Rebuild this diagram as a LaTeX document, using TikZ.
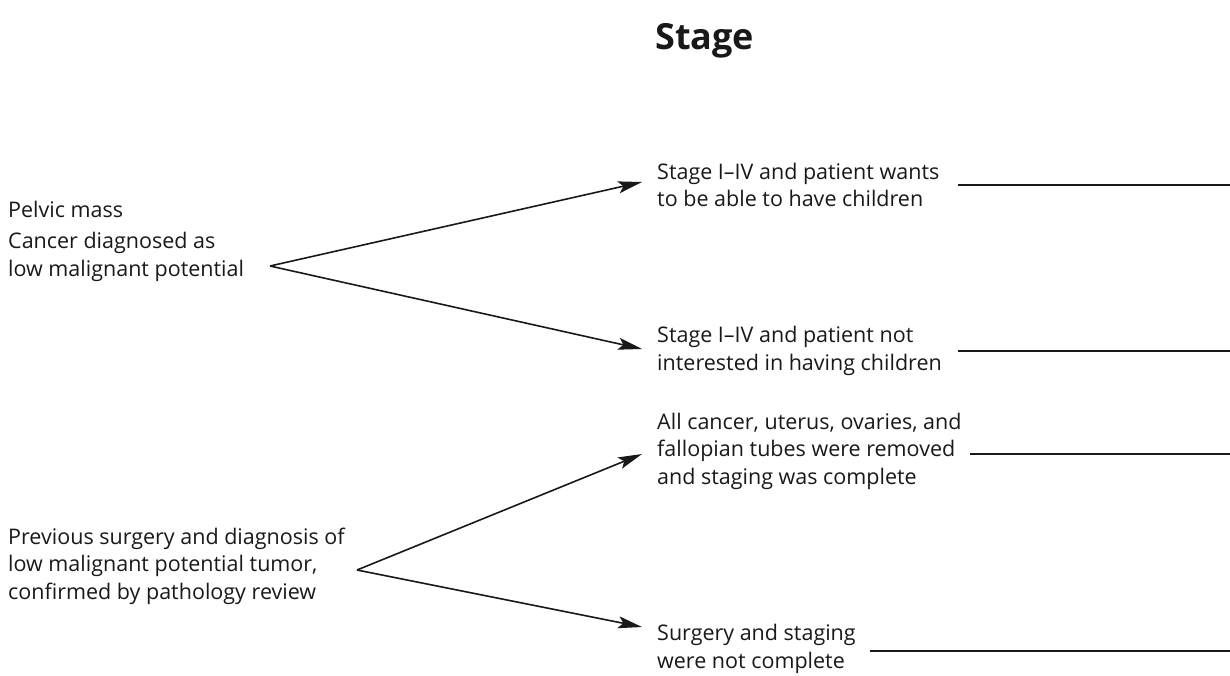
\documentclass[tikz,border=0pt]{standalone}
\usepackage{fontspec}
\setmainfont{Open Sans}
\usetikzlibrary{arrows.meta}
\begin{document}
\begin{tikzpicture}[x=1pt,y=-1pt,
  txt/.style={anchor=west,align=left,inner sep=0pt,font=\fontsize{21.5}{27.5}\selectfont,text=black!90},
  title/.style={anchor=west,inner sep=0pt,font=\fontsize{36}{40}\selectfont\bfseries,text=black!90},
  arr/.style={line width=1.6pt,draw=black!90,-{Stealth[length=24pt,width=12pt,inset=5pt]}},
  rule/.style={line width=1.6pt,draw=black!90}]
\useasboundingbox (0,0) rectangle (1230,675);
\node[title] (title) at (655,41) {Stage};
\node[txt] (pm) at (8,209) {Pelvic mass};
\node[txt] (cd) at (8,257) {Cancer diagnosed as\\low malignant potential};
\coordinate (a1) at (270,266);
\node[txt] (r1) at (657,185) {Stage I–IV and patient wants\\to be able to have children};
\node[txt] (r2) at (657,351) {Stage I–IV and patient not\\interested in having children};
\node[txt] (r3) at (657,451) {All cancer, uterus, ovaries, and\\fallopian tubes were removed\\and staging was complete};
\node[txt] (ps) at (8,566) {Previous surgery and diagnosis of\\low malignant potential tumor,\\confirmed by pathology review};
\coordinate (a2) at (357,570);
\node[txt] (r4) at (657,649) {Surgery and staging\\were not complete};
\coordinate (t1) at (642,182);
\coordinate (t2) at (642,349);
\coordinate (t3) at (642,454);
\coordinate (t4) at (642,627);
\draw[arr] (a1) -- (t1);
\draw[arr] (a1) -- (t2);
\draw[arr] (a2) -- (t3);
\draw[arr] (a2) -- (t4);
\coordinate (e1) at (1230,185);
\coordinate (e2) at (1230,351);
\coordinate (e3) at (1230,454);
\coordinate (e4) at (1230,651);
\draw[rule] (958,185) -- (e1);
\draw[rule] (958,351) -- (e2);
\draw[rule] (970,454) -- (e3);
\draw[rule] (870,651) -- (e4);
\end{tikzpicture}
\end{document}
